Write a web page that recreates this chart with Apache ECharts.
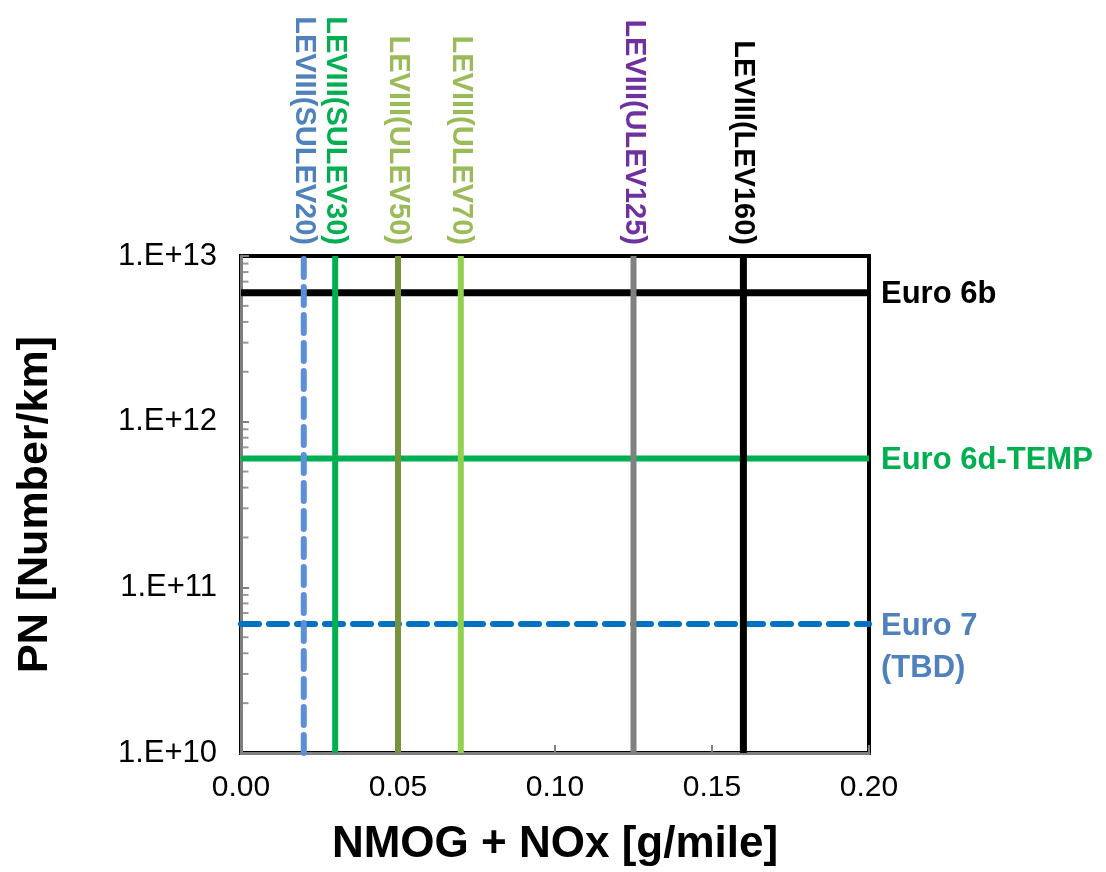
<!DOCTYPE html>
<html><head><meta charset="utf-8">
<script src="https://cdn.jsdelivr.net/npm/echarts@6/dist/echarts.min.js"></script>
<style>html,body{margin:0;padding:0;background:#fff}#c{width:1106px;height:872px}</style>
</head><body><div id="c"></div>
<script>
// ---- data ----
const xTickLabels = ['0.00', '0.05', '0.10', '0.15', '0.20'];
const yTickLabels = ['1.E+10', '1.E+11', '1.E+12', '1.E+13'];
const usNames = ['LEVIII(SULEV20)', 'LEVIII(SULEV30)', 'LEVIII(ULEV50)', 'LEVIII(ULEV70)', 'LEVIII(ULEV125)', 'LEVIII(LEV160)'];
const usLimits = [0.02, 0.03, 0.05, 0.07, 0.125, 0.16];
const euNames = ['Euro 6b', 'Euro 6d-TEMP', 'Euro 7\n(TBD)'];
const euLimits = [6e12, 6e11, 6e10];
const minorTickValues = [
  2e10, 3e10, 4e10, 5e10, 6e10, 7e10, 8e10, 9e10,
  2e11, 3e11, 4e11, 5e11, 6e11, 7e11, 8e11, 9e11,
  2e12, 3e12, 4e12, 5e12, 6e12, 7e12, 8e12, 9e12
];

// ---- styles ----
const FONT = '"Liberation Sans", Arial, sans-serif';
const usLineColors = ['#5b8fd6', '#00b050', '#77933c', '#92d050', '#808080', '#000000'];
const usTextColors = ['#4f81bd', '#00b050', '#9bbb59', '#9bbb59', '#7030a0', '#000000'];
const usLineWidths = [6, 6, 6, 6, 6, 7];
const usLineTypes = [[18, 10], 'solid', 'solid', 'solid', 'solid', 'solid'];
const euLineColors = ['#000000', '#00b050', '#0070c0'];
const euTextColors = ['#000000', '#00b050', '#4f81bd'];
const euLineWidths = [7, 6, 6];
const euLineTypes = ['solid', 'solid', [18, 10]];

const X_MIN = 0, X_MAX = 0.2, Y_MIN = 1e10, Y_MAX = 1e13;

const series = [];
// minor log ticks on the left axis
series.push({
  type: 'scatter', silent: true, clip: false, z: 1,
  symbol: 'rect', symbolSize: [7, 2], symbolOffset: [4, 0],
  itemStyle: { color: '#808080' },
  data: minorTickValues.map(v => [X_MIN, v])
});
// horizontal Euro limits
euLimits.forEach((y, i) => {
  series.push({
    type: 'line', silent: true, clip: false, z: 3,
    symbol: 'circle', symbolSize: 0.01, showSymbol: true,
    itemStyle: { color: 'rgba(0,0,0,0)' },
    lineStyle: { color: euLineColors[i], width: euLineWidths[i], type: euLineTypes[i], cap: i === 2 ? 'round' : 'butt' },
    data: [
      [X_MIN, y],
      { value: [X_MAX, y], label: {
        show: true, formatter: euNames[i], position: 'right', distance: 12,
        color: euTextColors[i], fontSize: 31, fontWeight: 'bold', fontFamily: FONT,
        lineHeight: 42, verticalAlign: i === 2 ? 'top' : 'middle', offset: i === 2 ? [0, -19] : [0, 2]
      } }
    ]
  });
});
// vertical LEV III limits
usLimits.forEach((x, i) => {
  series.push({
    type: 'line', silent: true, clip: false, z: 4,
    symbol: 'circle', symbolSize: 0.01, showSymbol: true,
    itemStyle: { color: 'rgba(0,0,0,0)' },
    lineStyle: { color: usLineColors[i], width: usLineWidths[i], type: usLineTypes[i], cap: i === 0 ? 'round' : 'butt' },
    data: [
      [x, Y_MIN],
      { value: [x, Y_MAX], label: {
        show: true, formatter: usNames[i], position: 'top', distance: 11, rotate: -90,
        align: 'right', verticalAlign: 'middle',
        color: usTextColors[i], fontSize: 29, fontWeight: 'bold', fontFamily: FONT
      } }
    ]
  });
});

const chart = echarts.init(document.getElementById('c'), null, { renderer: 'canvas' });
chart.setOption({
  animation: false,
  backgroundColor: '#ffffff',
  grid: { left: 241, right: 237, top: 256, bottom: 118, show: true, borderColor: '#000', borderWidth: 4, backgroundColor: 'transparent' },
  xAxis: {
    type: 'value', min: X_MIN, max: X_MAX, interval: 0.05,
    name: 'NMOG + NOx [g/mile]', nameLocation: 'middle', nameGap: 70,
    nameTextStyle: { fontSize: 44, fontWeight: 'bold', color: '#000', fontFamily: FONT },
    axisLine: { show: true, lineStyle: { color: '#808080', width: 3 } },
    axisTick: { show: true, inside: true, length: 8, lineStyle: { color: '#808080', width: 2 } },
    axisLabel: { margin: 20, fontSize: 30, color: '#000', fontFamily: FONT,
      formatter: v => xTickLabels[Math.round(v / 0.05)] },
    splitLine: { show: false }
  },
  yAxis: {
    type: 'log', logBase: 10, min: Y_MIN, max: Y_MAX,
    name: 'PN [Number/km]', nameLocation: 'middle', nameGap: 184,
    nameTextStyle: { fontSize: 43, fontWeight: 'bold', color: '#000', fontFamily: FONT },
    axisLine: { show: true, lineStyle: { color: '#808080', width: 3 } },
    axisTick: { show: true, inside: true, length: 8, lineStyle: { color: '#808080', width: 2 } },
    minorTick: { show: false },
    axisLabel: { margin: 24, fontSize: 31, color: '#000', fontFamily: FONT,
      formatter: v => yTickLabels[Math.round(Math.log10(v)) - 10] },
    splitLine: { show: false }
  },
  series: series
});
</script>
</body></html>
